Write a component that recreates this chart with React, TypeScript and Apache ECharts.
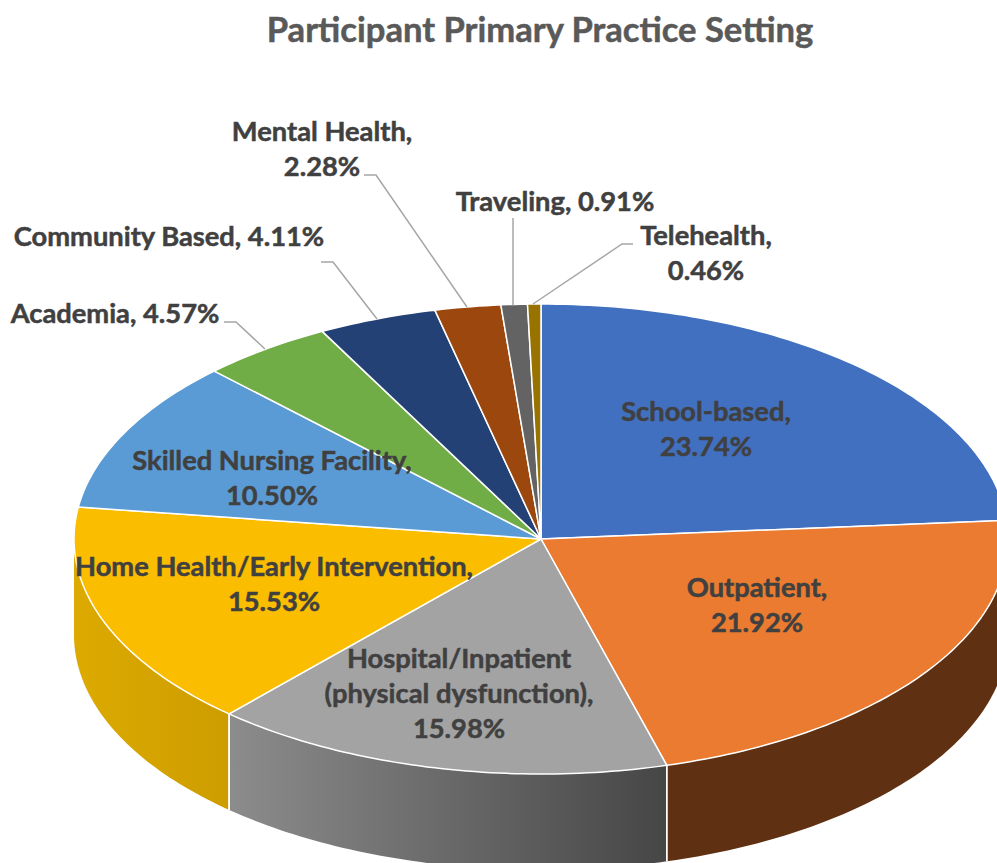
import React, { useEffect, useRef } from "react";
import * as echarts from "echarts";

const chartTitle = "Participant Primary Practice Setting";
const categories = [
  "School-based",
  "Outpatient",
  "Hospital/Inpatient\n(physical dysfunction)",
  "Home Health/Early Intervention",
  "Skilled Nursing Facility",
  "Academia",
  "Community Based",
  "Mental Health",
  "Traveling",
  "Telehealth",
];
const shares = [23.74, 21.92, 15.98, 15.53, 10.5, 4.57, 4.11, 2.28, 0.91, 0.46];
const labelBreaks = ["\n", "\n", "\n", "\n", "\n", " ", " ", "\n", " ", "\n"];

const topColors = ["#4170c0", "#ea7b30", "#a3a3a3", "#fbbd00", "#5b9bd5", "#70ad47", "#234175", "#9b470d", "#636363", "#997300"];
const sideColors: any[] = [
  "#2f5597",
  "#5f3112",
  ["#8c8c8c", "#464646"],
  ["#dcaa00", "#cd9d00"],
  "#3f7ab0", "#4f8030", "#1a3054", "#6f320a", "#454545", "#6b5000",
];
const labelCenters = [
  [706, 428], [757, 604], [459, 692.5], [274, 583], [272, 477],
  [115, 312.5], [169, 235.5], [322, 148], [555, 200], [706, 252],
];
const leaderLines: (number[][] | null)[] = [
  null, null, null, null, null,
  [[224, 322], [236, 322], [265, 349]],
  [[321, 262], [333, 262], [377, 319]],
  [[364, 175], [376, 175], [467, 307]],
  [[513, 218], [513, 305]],
  [[633, 244], [622, 244], [533, 304]],
];

const CX = 541;
const CY = 539;
const RX = 467;
const RY = 235;
const DEPTH = 96;
const FONT_FAMILY = "Lato, 'Open Sans', sans-serif";

const point = (deg: number, dy = 0) => {
  const r = (deg * Math.PI) / 180;
  return [CX + RX * Math.sin(r), CY - RY * Math.cos(r) + dy];
};
const arc = (from: number, to: number, dy = 0) => {
  const pts: number[][] = [];
  const n = Math.max(2, Math.ceil(Math.abs(to - from)));
  for (let i = 0; i <= n; i++) pts.push(point(from + ((to - from) * i) / n, dy));
  return pts;
};
const total = shares.reduce((a, b) => a + b, 0);
const startAngle = (i: number) => (shares.slice(0, i).reduce((a, b) => a + b, 0) / total) * 360;

const renderSlice = (params: any) => {
  const i = params.dataIndex;
  const a0 = startAngle(i);
  const a1 = startAngle(i + 1);
  const children: any[] = [];
  const s0 = Math.max(a0, 90);
  const s1 = Math.min(a1, 270);
  if (s1 > s0) {
    const c = sideColors[i];
    const fill = Array.isArray(c)
      ? new echarts.graphic.LinearGradient(0, 0, 1, 0, [
          { offset: 0, color: c[0] },
          { offset: 1, color: c[1] },
        ])
      : c;
    children.push({
      type: "polygon",
      shape: { points: [...arc(s0, s1), ...arc(s1, s0, DEPTH)] },
      style: { fill },
    });
    [a0, a1].forEach((a) => {
      if (a > 90 && a < 270) {
        const p = point(a);
        children.push({
          type: "line",
          z2: 5,
          shape: { x1: p[0], y1: p[1], x2: p[0], y2: p[1] + DEPTH },
          style: { stroke: "#ffffff", lineWidth: 1.5 },
        });
      }
    });
  }
  children.push({
    type: "polygon",
    z2: 10,
    shape: { points: [[CX, CY], ...arc(a0, a1)] },
    style: { fill: topColors[i], stroke: "#ffffff", lineWidth: 1.5, lineJoin: "round" },
  });
  return { type: "group", children };
};

const renderLabel = (params: any) => {
  const i = params.dataIndex;
  const [x, y] = labelCenters[i];
  const children: any[] = [];
  const leader = leaderLines[i];
  if (leader) {
    children.push({
      type: "polyline",
      shape: { points: leader },
      style: { stroke: "#a6a6a6", lineWidth: 1.5, fill: "none" },
    });
  }
  children.push({
    type: "text",
    style: {
      text: `${categories[i]},${labelBreaks[i]}${shares[i].toFixed(2)}%`,
      x,
      y,
      align: "center",
      verticalAlign: "middle",
      fill: "#404040",
      stroke: "#404040",
      lineWidth: 0.5,
      fontFamily: FONT_FAMILY,
      fontWeight: "bold",
      fontSize: 27.3,
      lineHeight: 35,
    },
  });
  return { type: "group", children };
};

export default function App() {
  const ref = useRef<HTMLDivElement>(null);
  useEffect(() => {
    const chart = echarts.init(ref.current!, undefined, { renderer: "svg" });
    chart.setOption({
      animation: false,
      backgroundColor: "#ffffff",
      title: {
        text: chartTitle,
        left: 535,
        top: 6,
        textAlign: "center",
        textStyle: {
          color: "#595959",
          fontFamily: FONT_FAMILY,
          fontWeight: "bold",
          fontSize: 34.6,
          textBorderColor: "#595959",
          textBorderWidth: 0.5,
        },
      },
      tooltip: { show: false },
      series: [
        {
          type: "custom",
          coordinateSystem: "none",
          silent: true,
          z: 2,
          clip: false,
          data: shares.map((v, i) => ({ name: categories[i], value: v })),
          renderItem: renderSlice,
        },
        {
          type: "custom",
          coordinateSystem: "none",
          silent: true,
          z: 3,
          data: shares.map((v, i) => ({ name: categories[i], value: v })),
          renderItem: renderLabel,
        },
      ],
    });
    return () => chart.dispose();
  }, []);
  return <div ref={ref} style={{ position: "absolute", left: 0, top: 0, width: 997, height: 863 }} />;
}
